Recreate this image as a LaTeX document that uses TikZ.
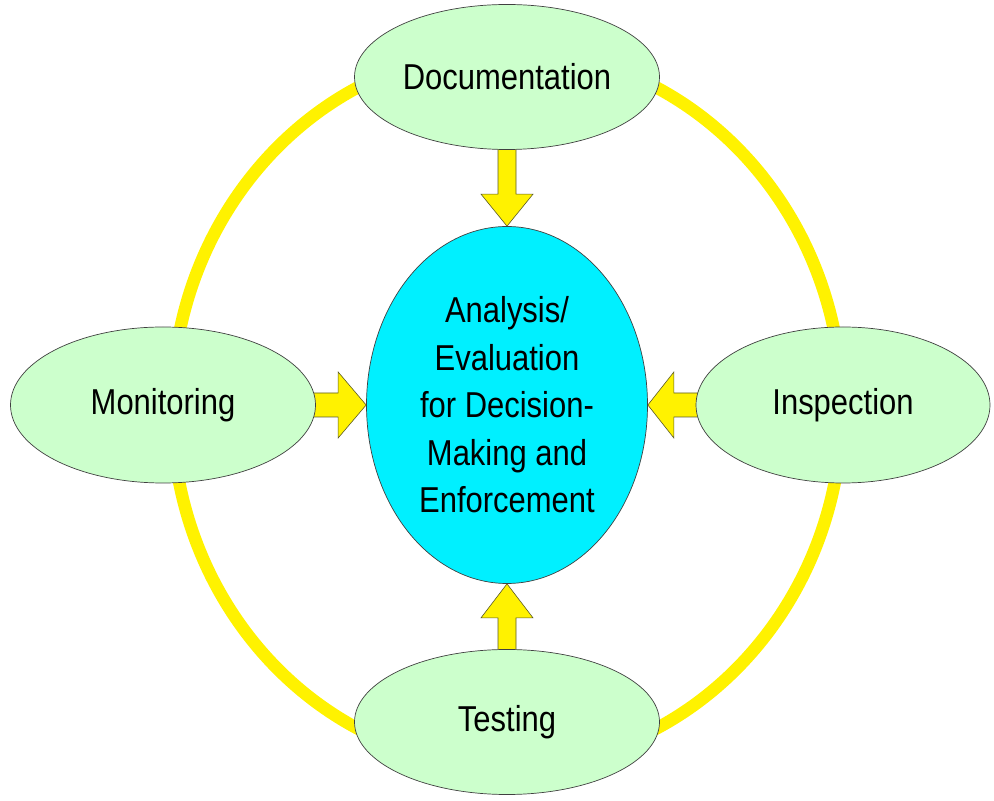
\documentclass[tikz,border=0pt]{standalone}
\usepackage{fontspec}
\setmainfont{Liberation Sans}[FakeStretch=0.86]
\usetikzlibrary{shapes.geometric}
\usetikzlibrary{backgrounds}

\definecolor{paleGreen}{RGB}{204,255,204}
\definecolor{coreCyan}{RGB}{0,240,255}
\definecolor{arrowEdge}{RGB}{90,90,40}

\begin{document}
\begin{tikzpicture}[x=1pt, y=1pt,
    area/.style={ellipse, draw=black!75, line width=0.7pt, fill=paleGreen,
        inner sep=0pt, align=center, font=\fontsize{36}{47.5}\selectfont},
    ring/.style={yellow, line width=12.5pt},
    blockarrow/.style={fill=yellow, draw=arrowEdge, line width=0.6pt, line join=miter}]

        \useasboundingbox (0,0) rectangle (994,801);

        % Centre and the four areas round it
        \node[area, fill=coreCyan, minimum width=281pt, minimum height=357pt] (core) at (507,396)
            {Analysis/\\Evaluation\\for Decision-\\Making and\\Enforcement};
        \node[area, minimum width=305pt, minimum height=145pt] (docu) at (507,724) {Documentation};
        \node[area, minimum width=305pt, minimum height=156pt] (moni) at (163,396) {Monitoring};
        \node[area, minimum width=294pt, minimum height=156pt] (insp) at (843,396) {Inspection};
        \node[area, minimum width=305pt, minimum height=145pt] (test) at (507,79) {Testing};

        \begin{pgfonlayer}{background}
        % Yellow loop behind the areas
        \draw[ring] (507,393) ellipse [x radius=335pt, y radius=358pt];

        % Block arrows pointing at the centre
        \draw[blockarrow] (core.north) -- ++(-26,32) -- ++(17,0) -- ++(0,50) -- ++(18,0) -- ++(0,-50) -- ++(17,0) -- cycle;
        \draw[blockarrow] (core.south) -- ++(-26,-34) -- ++(17,0) -- ++(0,-38) -- ++(18,0) -- ++(0,38) -- ++(17,0) -- cycle;
        \draw[blockarrow] (core.west) -- ++(-28,33) -- ++(0,-21) -- ++(-28,0) -- ++(0,-24) -- ++(28,0) -- ++(0,-21) -- cycle;
        \draw[blockarrow] (core.east) -- ++(26,33) -- ++(0,-21) -- ++(28,0) -- ++(0,-24) -- ++(-28,0) -- ++(0,-21) -- cycle;
        \end{pgfonlayer}
\end{tikzpicture}
\end{document}
